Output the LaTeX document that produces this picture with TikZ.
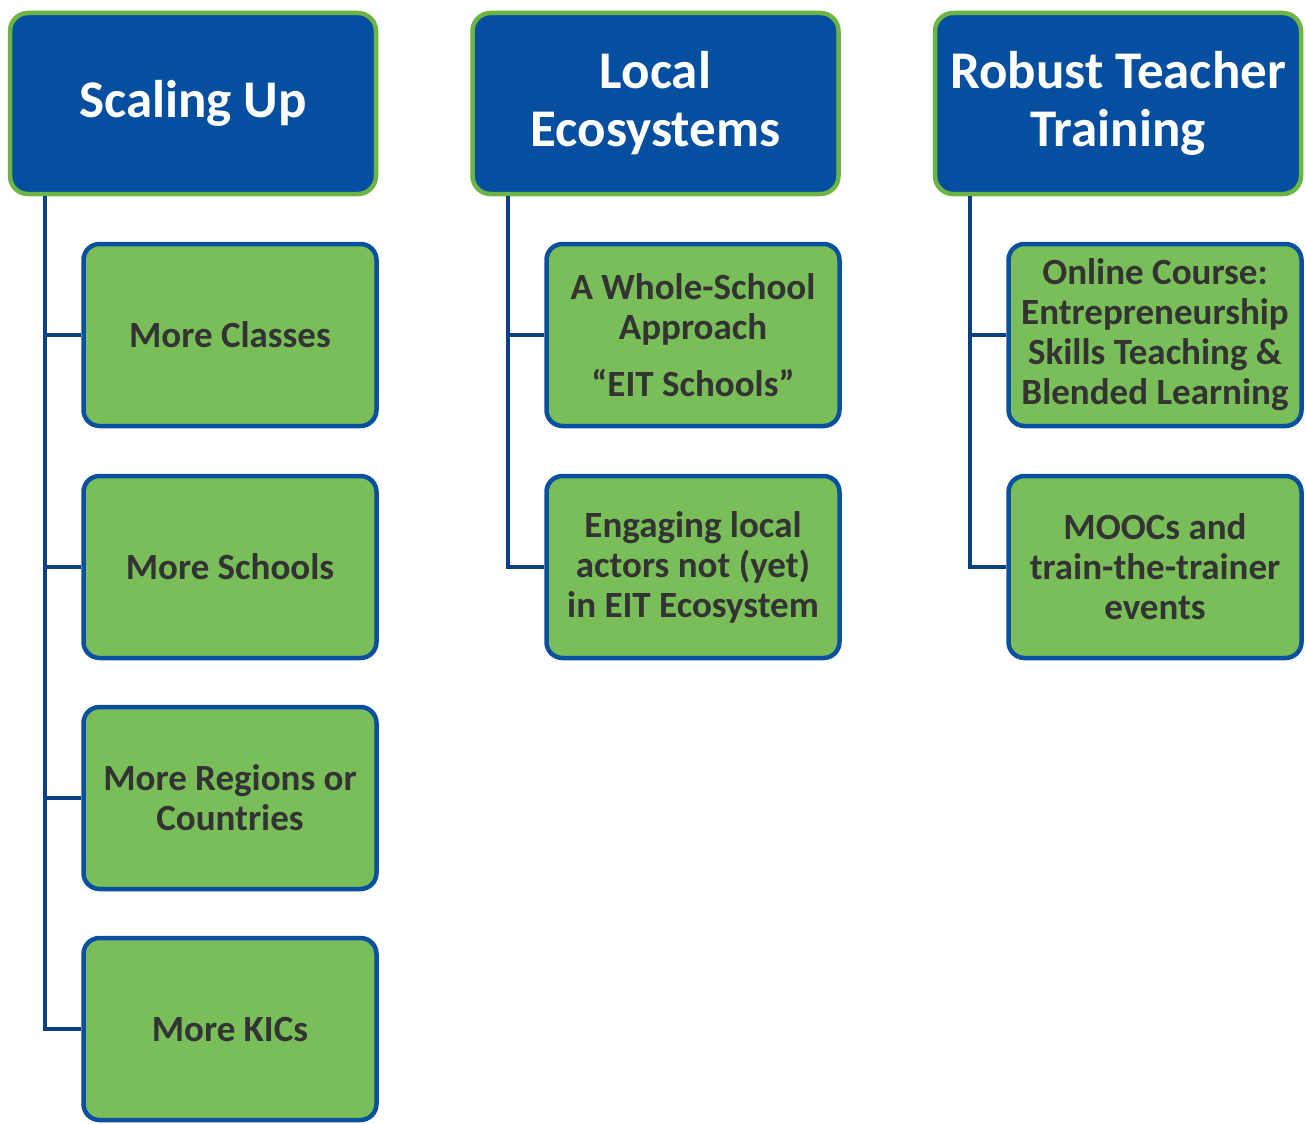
\documentclass[tikz,border=0pt]{standalone}
\usepackage{fontspec}
\setmainfont{Carlito}
\definecolor{hdrblue}{HTML}{054EA0}
\definecolor{hdrgreen}{HTML}{6CB443}
\definecolor{boxgreen}{HTML}{79BE58}
\definecolor{boxblue}{HTML}{0A4FA0}
\definecolor{linkblue}{HTML}{0B3F86}
\definecolor{txtgray}{HTML}{333333}
\begin{document}
\begin{tikzpicture}[x=1pt,y=-1pt,
  header/.style={draw=hdrgreen, line width=4.5pt, fill=hdrblue, rounded corners=18pt,
    minimum width=366pt, minimum height=181pt, inner sep=0pt, text=white,
    font=\fontsize{53}{58}\selectfont\bfseries, align=center},
  child/.style={draw=boxblue, line width=4.5pt, fill=boxgreen, rounded corners=16pt,
    minimum width=293pt, minimum height=182pt, inner sep=0pt, text=txtgray,
    font=\fontsize{37}{40}\selectfont\bfseries, align=center},
  link/.style={draw=linkblue, line width=4pt}]
\useasboundingbox (0,0) rectangle (1306,1124);
% headers
\node[header] (h1) at (193,103.5) {Scaling Up};
\node[header] (h2) at (655.5,103.5) {Local\\Ecosystems};
\node[header] (h3) at (1118,103.5) {Robust Teacher\\Training};
% children
\node[child] (a1) at (230,335) {More Classes};
\node[child] (a2) at (230,567) {More Schools};
\node[child] (a3) at (230,798) {More Regions or\\Countries};
\node[child] (a4) at (230,1029) {More KICs};
\node[child] (b1) at (693,335) {A Whole-School\\Approach\\[17pt]“EIT Schools”};
\node[child] (b2) at (693,567) {Engaging local\\actors not (yet)\\in EIT Ecosystem};
\node[child] (c1) at (1155,335) {Online Course:\\Entrepreneurship\\Skills Teaching \&\\Blended Learning};
\node[child] (c2) at (1155,567) {MOOCs and\\train-the-trainer\\events};
% connectors
\foreach \h/\x/\list in {h1/45/{a1,a2,a3,a4}, h2/508/{b1,b2}, h3/970/{c1,c2}} {
  \foreach \c in \list {
    \draw[link] (\h.south -| \x,0) |- (\c.west);
  }
}
\end{tikzpicture}
\end{document}
